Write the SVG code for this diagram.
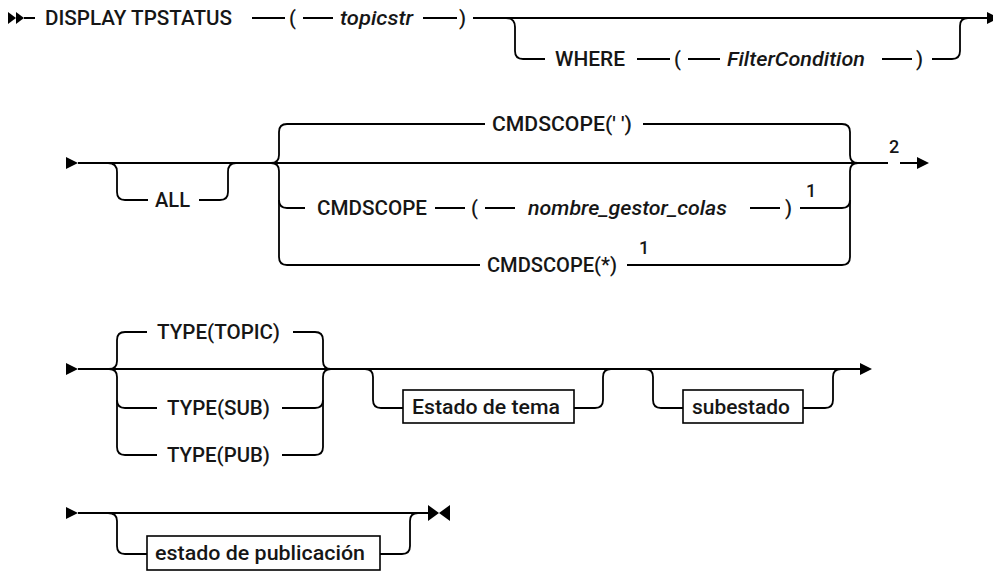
<svg xmlns="http://www.w3.org/2000/svg" width="993" height="573" viewBox="0 0 993 573">
<style>
.r{fill:none;stroke:#000;stroke-width:1.8}
.b{fill:#fff;stroke:#000;stroke-width:1.6}
.m{fill:#000}
text{font-family:Roboto,"Liberation Sans",Arial,sans-serif;font-size:20px;font-weight:500;fill:#161616}
.i{font-style:italic}
.s{font-size:18px}
</style>
<rect width="993" height="573" fill="#fff"/>
<g id="connectors">
<!-- row 1 -->
<polygon class="m" points="8,12 16,18 8,24"/>
<polygon class="m" points="16,12 24,18 16,24"/>
<path class="r" d="M24,18H35 M252,18H285 M303,18H333 M423,18H457 M473,18H988"/>
<path class="r" d="M506,18Q515,18 515,27V51Q515,59 523,59H545 M637,59H670 M688,59H720 M882,59H912 M932,59H952Q960,59 960,51V26Q960,18 968,18"/>
<polygon class="m" points="987,12 999,18 987,24"/>
<!-- row 2 -->
<polygon class="m" points="66,157 78,163 66,169"/>
<path class="r" d="M78,163H888 M900,163H918"/>
<path class="r" d="M108,163Q117,163 117,172V192Q117,200 125,200H148 M199,200H220Q228,200 228,192V172Q228,163 236,163"/>
<path class="r" d="M271,163Q279,163 279,155V132Q279,124 287,124H485 M643,124H842Q850,124 850,132V155Q850,163 858,163"/>
<path class="r" d="M271,163Q279,163 279,171V257Q279,265 287,265H480 M627,265H842Q850,265 850,257V171Q850,163 858,163"/>
<path class="r" d="M279,200Q279,208 287,208H305 M435,208H465 M485,208H515 M750,208H780 M800,208H842Q850,208 850,200"/>
<polygon class="m" points="917,157 929,163 917,169"/>
<!-- row 3 -->
<polygon class="m" points="66,363 78,369 66,375"/>
<path class="r" d="M78,369H860"/>
<path class="r" d="M109,369Q117,369 117,361V340Q117,332 125,332H147 M293,332H315Q323,332 323,340V361Q323,369 331,369"/>
<path class="r" d="M109,369Q117,369 117,377V447Q117,455 125,455H157 M282,455H315Q323,455 323,447V377Q323,369 331,369"/>
<path class="r" d="M117,400Q117,408 125,408H157 M282,408H315Q323,408 323,400"/>
<path class="r" d="M365,369Q373,369 373,377V400Q373,408 381,408H403 M574,408H595Q603,408 603,400V377Q603,369 611,369"/>
<path class="r" d="M645,369Q653,369 653,377V400Q653,408 661,408H683 M803,408H825Q833,408 833,400V377Q833,369 841,369"/>
<polygon class="m" points="860,363 872,369 860,375"/>
<!-- row 4 -->
<polygon class="m" points="66,507 78,513 66,519"/>
<path class="r" d="M78,513H428"/>
<path class="r" d="M108,513Q117,513 117,521V546Q117,554 125,554H147 M380,554H402Q410,554 410,546V521Q410,513 418,513"/>
<polygon class="m" points="428,505 439,513 428,521"/>
<polygon class="m" points="450,505 439,513 450,521"/>
</g>
<g id="display-tpstatus"><text x="45" y="25" textLength="187" lengthAdjust="spacingAndGlyphs">DISPLAY TPSTATUS</text></g>
<g id="topicstr">
<text x="289" y="25">(</text>
<text class="i" x="340" y="25" textLength="73" lengthAdjust="spacingAndGlyphs">topicstr</text>
<text x="459" y="25">)</text>
</g>
<g id="where">
<text x="555" y="66" textLength="70" lengthAdjust="spacingAndGlyphs">WHERE</text>
<text x="674" y="66">(</text>
<text class="i" x="727" y="66" textLength="138" lengthAdjust="spacingAndGlyphs">FilterCondition</text>
<text x="916" y="66">)</text>
</g>
<g id="all"><text x="155" y="207" textLength="35" lengthAdjust="spacingAndGlyphs">ALL</text></g>
<g id="cmdscope-blank"><text x="492" y="131" textLength="140" lengthAdjust="spacingAndGlyphs">CMDSCOPE(' ')</text></g>
<g id="cmdscope-qmgr">
<text x="317" y="215" textLength="110" lengthAdjust="spacingAndGlyphs">CMDSCOPE</text>
<text x="471" y="215">(</text>
<text class="i" x="528" y="215" textLength="199" lengthAdjust="spacingAndGlyphs">nombre_gestor_colas</text>
<text x="785" y="215">)</text>
<text class="s" x="806" y="197">1</text>
</g>
<g id="cmdscope-star">
<text x="487" y="272" textLength="130" lengthAdjust="spacingAndGlyphs">CMDSCOPE(*)</text>
<text class="s" x="639" y="254">1</text>
</g>
<g id="note2"><text class="s" x="889" y="153">2</text></g>
<g id="type-topic"><text x="157" y="339" textLength="123" lengthAdjust="spacingAndGlyphs">TYPE(TOPIC)</text></g>
<g id="type-sub"><text x="167" y="415" textLength="103" lengthAdjust="spacingAndGlyphs">TYPE(SUB)</text></g>
<g id="type-pub"><text x="167" y="462" textLength="103" lengthAdjust="spacingAndGlyphs">TYPE(PUB)</text></g>
<g id="estado-tema">
<rect class="b" x="403" y="390" width="171" height="33"/>
<text x="412" y="414" textLength="148" lengthAdjust="spacingAndGlyphs">Estado de tema</text>
</g>
<g id="subestado">
<rect class="b" x="683" y="390" width="120" height="33"/>
<text x="692" y="414" textLength="98" lengthAdjust="spacingAndGlyphs">subestado</text>
</g>
<g id="estado-publicacion">
<rect class="b" x="147" y="536" width="233" height="34"/>
<text x="155" y="560" textLength="210" lengthAdjust="spacingAndGlyphs">estado de publicación</text>
</g>
</svg>
